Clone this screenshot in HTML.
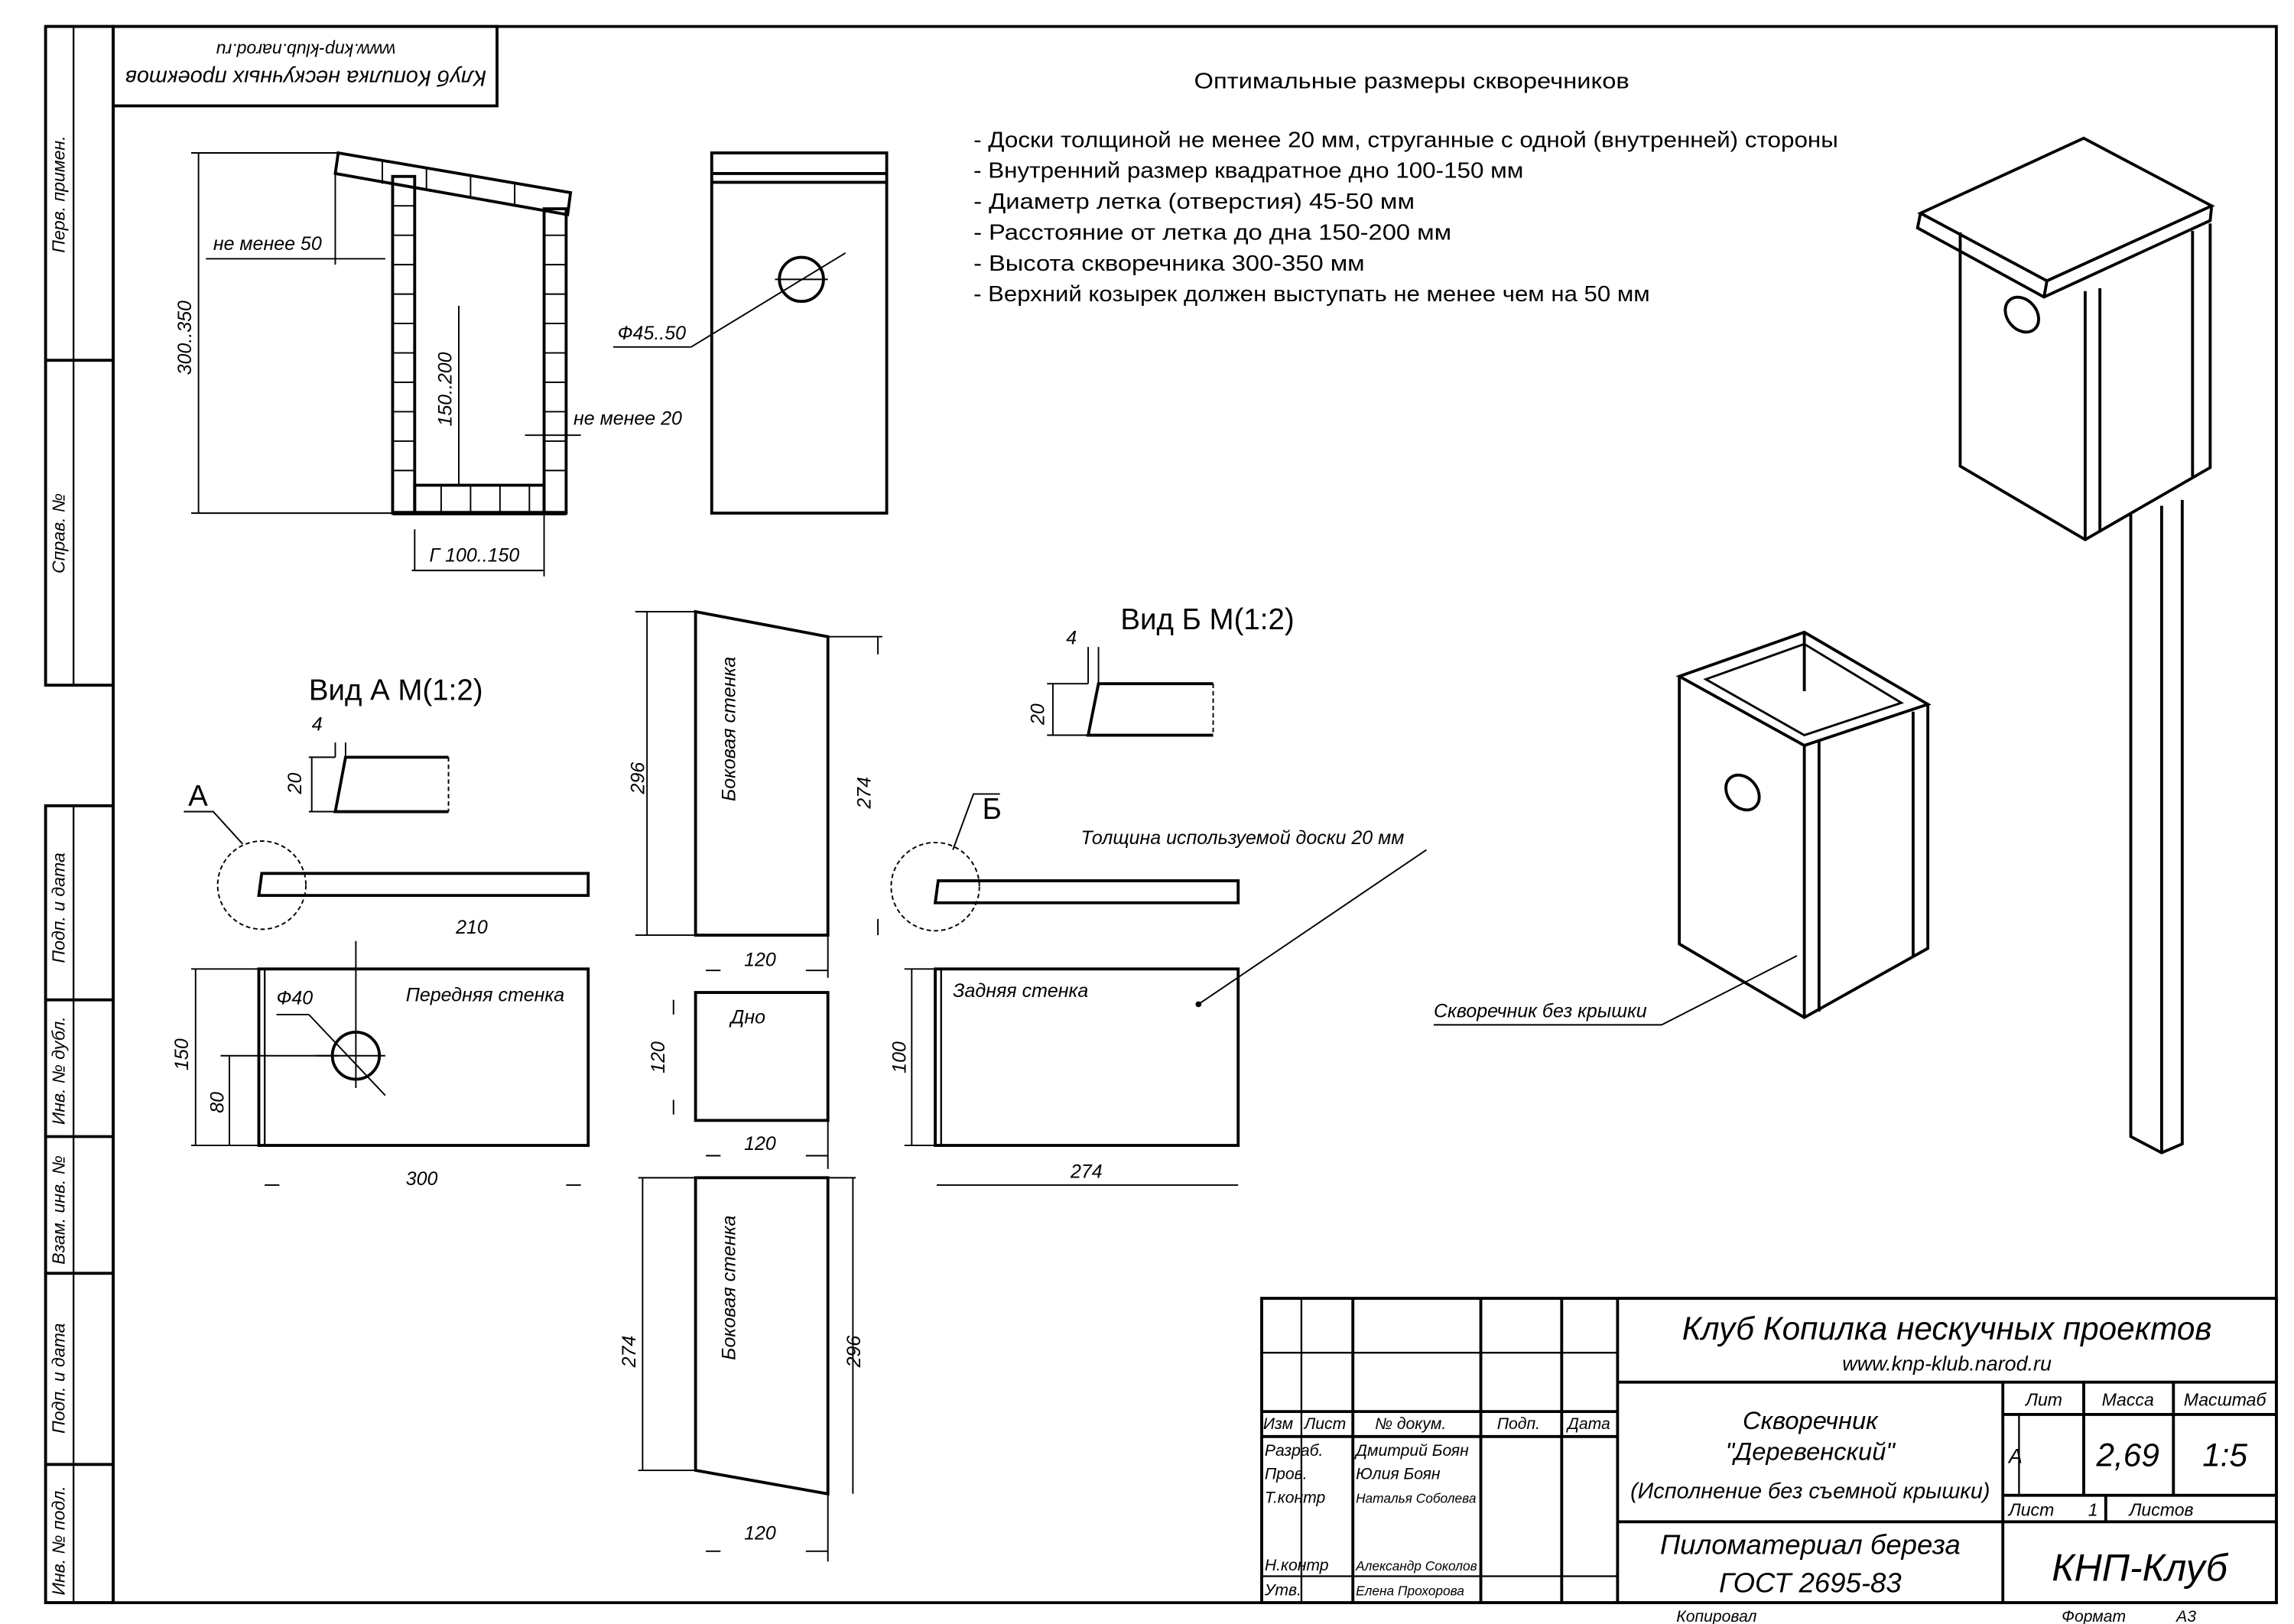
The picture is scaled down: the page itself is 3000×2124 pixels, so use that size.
<!DOCTYPE html>
<html><head><meta charset="utf-8"><style>
html,body{margin:0;padding:0;background:#fff;}
svg{display:block;}
text{font-family:"Liberation Sans",sans-serif;fill:#000;}
.it{font-style:italic;}
</style></head><body>
<svg width="3000" height="2124" viewBox="0 0 1560 1104.5" preserveAspectRatio="none" xmlns="http://www.w3.org/2000/svg">
<g fill="none" stroke="#000" stroke-width="2">
<polyline points="31,18 1548,18 1548,1090 31,1090"/>
<line x1="77" y1="18" x2="77" y2="1090"/>
<rect x="31" y="18" width="46" height="448"/>
<line x1="50" y1="18" x2="50" y2="466" stroke-width="1.2"/>
<line x1="31" y1="245" x2="77" y2="245"/>
<rect x="31" y="548" width="46" height="542"/>
<line x1="50" y1="548" x2="50" y2="1090" stroke-width="1.2"/>
<line x1="31" y1="680" x2="77" y2="680"/>
<line x1="31" y1="773" x2="77" y2="773"/>
<line x1="31" y1="866" x2="77" y2="866"/>
<line x1="31" y1="996" x2="77" y2="996"/>
<rect x="77" y="18" width="261" height="54"/>
</g>
<g class="it" font-size="12">
<text transform="translate(44,172) rotate(-90)">Перв. примен.</text>
<text transform="translate(44,390) rotate(-90)">Справ. №</text>
<text transform="translate(44,655) rotate(-90)">Подп. и дата</text>
<text transform="translate(44,765) rotate(-90)">Инв. № дубл.</text>
<text transform="translate(44,860) rotate(-90)">Взам. инв. №</text>
<text transform="translate(44,975) rotate(-90)">Подп. и дата</text>
<text transform="translate(44,1085) rotate(-90)">Инв. № подл.</text>
</g>
<g class="it" text-anchor="middle">
<text transform="translate(208,48) rotate(180)" font-size="15">Клуб Копилка нескучных проектов</text>
<text transform="translate(208,30) rotate(180)" font-size="12">www.knp-klub.narod.ru</text>
</g>
<text x="812" y="60" font-size="15" textLength="296" lengthAdjust="spacingAndGlyphs">Оптимальные размеры скворечников</text>
<g font-size="15">
<text x="662" y="100" textLength="588" lengthAdjust="spacingAndGlyphs">- Доски толщиной не менее 20 мм, струганные с одной (внутренней) стороны</text>
<text x="662" y="121" textLength="374" lengthAdjust="spacingAndGlyphs">- Внутренний размер квадратное дно 100-150 мм</text>
<text x="662" y="142" textLength="300" lengthAdjust="spacingAndGlyphs">- Диаметр летка (отверстия) 45-50 мм</text>
<text x="662" y="163" textLength="325" lengthAdjust="spacingAndGlyphs">- Расстояние от летка до дна 150-200 мм</text>
<text x="662" y="184" textLength="266" lengthAdjust="spacingAndGlyphs">- Высота скворечника 300-350 мм</text>
<text x="662" y="205" textLength="460" lengthAdjust="spacingAndGlyphs">- Верхний козырек должен выступать не менее чем на 50 мм</text>
</g>
<g fill="none" stroke="#000" stroke-width="2">
<polygon points="230,104 388,131 386,146 228,118"/>
<rect x="267" y="120" width="15" height="229"/>
<rect x="370" y="142" width="15" height="207"/>
<rect x="282" y="330" width="88" height="19"/>
<line x1="267" y1="349" x2="385" y2="349" stroke-width="3"/>
</g>
<g stroke="#000" stroke-width="1">
<line x1="130" y1="104" x2="230" y2="104"/><line x1="130" y1="349" x2="267" y2="349"/>
<line x1="135" y1="104" x2="135" y2="349"/>
<line x1="140" y1="176" x2="262" y2="176"/><line x1="228" y1="118" x2="228" y2="180"/>
<line x1="312" y1="208" x2="312" y2="330"/>
<line x1="357" y1="296" x2="395" y2="296"/>
<line x1="370" y1="349" x2="370" y2="392"/>
<line x1="280" y1="388" x2="370" y2="388"/>
<line x1="282" y1="360" x2="282" y2="388"/>
<path d="M267,140h15M267,160h15M267,180h15M267,200h15M267,220h15M267,240h15M267,260h15M267,280h15M267,300h15M267,320h15M370,160h15M370,180h15M370,200h15M370,220h15M370,240h15M370,260h15M370,280h15M370,300h15M370,320h15M300,330v19M320,330v19M340,330v19M360,330v19M260,110v15M290,114v15M320,119v15M350,124v15"/>
</g>
<g class="it" font-size="13">
<text transform="translate(130,255) rotate(-90)">300..350</text>
<text x="145" y="170">не менее 50</text>
<text transform="translate(307,290) rotate(-90)">150..200</text>
<text x="390" y="289">не менее 20</text>
<text x="292" y="382">Г 100..150</text>
<text x="420" y="231">Ф45..50</text>
</g>
<g fill="none" stroke="#000" stroke-width="2">
<rect x="484" y="104" width="119" height="245"/>
<line x1="484" y1="118" x2="603" y2="118"/><line x1="484" y1="124" x2="603" y2="124"/>
<circle cx="545" cy="190" r="15"/>
</g>
<g stroke="#000" stroke-width="1"><line x1="417" y1="236" x2="470" y2="236"/><line x1="470" y1="236" x2="575" y2="172"/><line x1="527" y1="190" x2="563" y2="190"/></g>
<text x="210" y="476" font-size="20">Вид А М(1:2)</text>
<g fill="none" stroke="#000" stroke-width="2">
<polyline points="305,515 235,515 228,552 305,552"/>
<circle cx="178" cy="602" r="30" stroke-width="1" stroke-dasharray="3,2"/>
<polygon points="178,594 400,594 400,609 176,609"/>
<rect x="176" y="659" width="224" height="120"/>
<line x1="180" y1="659" x2="180" y2="779" stroke-width="1.2"/>
<circle cx="242" cy="718" r="16"/>
<polygon points="473,416 563,433 563,636 473,636"/>
<rect x="473" y="675" width="90" height="87"/>
<polygon points="473,801 563,801 563,1016 473,1000"/>
</g>
<g stroke="#000" stroke-width="1" fill="none">
<line x1="305" y1="515" x2="305" y2="552" stroke-dasharray="3,2"/>
<line x1="228" y1="505" x2="228" y2="515"/><line x1="235" y1="505" x2="235" y2="515"/>
<line x1="210" y1="515" x2="228" y2="515"/><line x1="210" y1="552" x2="228" y2="552"/><line x1="212" y1="515" x2="212" y2="552"/>
<polyline points="125,552 145,552 165,574"/>
<line x1="242" y1="640" x2="242" y2="740"/><line x1="215" y1="718" x2="262" y2="718"/>
<line x1="188" y1="690" x2="210" y2="690"/><line x1="210" y1="690" x2="262" y2="745"/>
<line x1="130" y1="659" x2="176" y2="659"/><line x1="130" y1="779" x2="176" y2="779"/>
<line x1="133" y1="659" x2="133" y2="779"/><line x1="156" y1="718" x2="156" y2="779"/><line x1="150" y1="718" x2="230" y2="718"/>
<line x1="180" y1="806" x2="190" y2="806"/><line x1="385" y1="806" x2="395" y2="806"/>
<line x1="440" y1="416" x2="440" y2="636"/><line x1="432" y1="416" x2="473" y2="416"/><line x1="432" y1="636" x2="473" y2="636"/>
<line x1="563" y1="433" x2="600" y2="433"/><line x1="597" y1="433" x2="597" y2="445"/><line x1="597" y1="625" x2="597" y2="636"/>
<line x1="563" y1="636" x2="563" y2="665"/><line x1="480" y1="660" x2="490" y2="660"/><line x1="548" y1="660" x2="563" y2="660"/>
<line x1="458" y1="680" x2="458" y2="690"/><line x1="458" y1="748" x2="458" y2="758"/>
<line x1="563" y1="762" x2="563" y2="795"/><line x1="480" y1="786" x2="490" y2="786"/><line x1="548" y1="786" x2="563" y2="786"/>
<line x1="434" y1="801" x2="473" y2="801"/><line x1="437" y1="801" x2="437" y2="1000"/><line x1="434" y1="1000" x2="473" y2="1000"/>
<line x1="563" y1="801" x2="582" y2="801"/><line x1="580" y1="801" x2="580" y2="1016"/>
<line x1="563" y1="1016" x2="563" y2="1062"/><line x1="480" y1="1055" x2="490" y2="1055"/><line x1="548" y1="1055" x2="563" y2="1055"/>
</g>
<g class="it" font-size="13">
<text x="212" y="497">4</text>
<text transform="translate(205,540) rotate(-90)">20</text>
<text x="310" y="635">210</text>
<text x="188" y="683">Ф40</text>
<text x="276" y="681">Передняя стенка</text>
<text transform="translate(128,728) rotate(-90)">150</text>
<text transform="translate(152,757) rotate(-90)">80</text>
<text x="276" y="806">300</text>
<text transform="translate(438,540) rotate(-90)">296</text>
<text transform="translate(500,545) rotate(-90)">Боковая стенка</text>
<text transform="translate(592,550) rotate(-90)">274</text>
<text x="506" y="657">120</text>
<text x="497" y="696">Дно</text>
<text transform="translate(452,730) rotate(-90)">120</text>
<text x="506" y="782">120</text>
<text transform="translate(432,930) rotate(-90)">274</text>
<text transform="translate(500,925) rotate(-90)">Боковая стенка</text>
<text transform="translate(585,930) rotate(-90)">296</text>
<text x="506" y="1047">120</text>
</g>
<text x="128" y="548" font-size="20">А</text>
<text x="762" y="428" font-size="20">Вид Б М(1:2)</text>
<text x="668" y="557" font-size="20">Б</text>
<g fill="none" stroke="#000" stroke-width="2">
<polyline points="825,465 747,465 740,500 825,500"/>
<polygon points="638,599 842,599 842,614 636,614"/>
<rect x="636" y="659" width="206" height="120"/>
<line x1="640" y1="659" x2="640" y2="779" stroke-width="1.2"/>
</g>
<g stroke="#000" stroke-width="1" fill="none">
<line x1="825" y1="465" x2="825" y2="500" stroke-dasharray="3,2"/>
<circle cx="636" cy="603" r="30" stroke-dasharray="3,2"/>
<polyline points="680,540 662,540 648,578"/>
<line x1="740" y1="440" x2="740" y2="465"/><line x1="747" y1="440" x2="747" y2="465"/>
<line x1="712" y1="465" x2="740" y2="465"/><line x1="712" y1="500" x2="740" y2="500"/><line x1="716" y1="465" x2="716" y2="500"/>
<line x1="615" y1="659" x2="636" y2="659"/><line x1="615" y1="779" x2="636" y2="779"/><line x1="620" y1="659" x2="620" y2="779"/>
<line x1="637" y1="806" x2="842" y2="806"/>
<line x1="970" y1="578" x2="815" y2="683"/>
</g>
<circle cx="815" cy="683" r="2"/>
<g class="it" font-size="13">
<text x="725" y="438">4</text>
<text transform="translate(710,493) rotate(-90)">20</text>
<text x="735" y="574">Толщина используемой доски 20 мм</text>
<text x="648" y="678">Задняя стенка</text>
<text transform="translate(616,730) rotate(-90)">100</text>
<text x="728" y="801">274</text>
<text x="975" y="692">Скворечник без крышки</text>
</g>
<g fill="none" stroke="#000" stroke-width="2">
<polygon points="1306,145 1417,94 1504,140 1392,191"/>
<polyline points="1306,145 1304,155 1390,202 1503,150 1504,140"/>
<line x1="1392" y1="191" x2="1390" y2="202"/>
<polyline points="1333,158 1333,317 1418,367 1503,318 1503,152"/>
<line x1="1418" y1="198" x2="1418" y2="367"/>
<line x1="1428" y1="196" x2="1428" y2="362"/>
<line x1="1491" y1="157" x2="1491" y2="324"/>
<ellipse cx="1375" cy="214" rx="10" ry="13" transform="rotate(-40 1375 214)"/>
<polyline points="1449,350 1449,773 1470,784 1484,778 1484,340"/>
<line x1="1470" y1="344" x2="1470" y2="784"/>
<polygon points="1142,460 1227,430 1311,479 1227,507"/>
<polygon points="1160,462 1227,438 1293,478 1227,500" stroke-width="1.5"/>
<polyline points="1142,460 1142,642 1227,692 1311,645 1311,479"/>
<line x1="1227" y1="507" x2="1227" y2="692"/>
<line x1="1237" y1="503" x2="1237" y2="688"/>
<line x1="1301" y1="484" x2="1301" y2="651"/>
<line x1="1227" y1="430" x2="1227" y2="470"/>
<ellipse cx="1185" cy="539" rx="10" ry="13" transform="rotate(-40 1185 539)"/>
</g>
<g stroke="#000" stroke-width="1"><line x1="975" y1="697" x2="1130" y2="697"/><line x1="1130" y1="697" x2="1222" y2="650"/></g>
<g fill="none" stroke="#000" stroke-width="2">
<rect x="858" y="883" width="690" height="207"/>
<line x1="885" y1="883" x2="885" y2="1090" stroke-width="1.2"/>
<line x1="920" y1="883" x2="920" y2="1090"/>
<line x1="1007" y1="883" x2="1007" y2="1090"/>
<line x1="1062" y1="883" x2="1062" y2="1090"/>
<line x1="1100" y1="883" x2="1100" y2="1090"/>
<line x1="858" y1="920" x2="1100" y2="920" stroke-width="1.2"/>
<line x1="858" y1="960" x2="1100" y2="960"/>
<line x1="858" y1="977" x2="1100" y2="977"/>
<line x1="858" y1="1072" x2="1100" y2="1072" stroke-width="1.2"/>
<line x1="1100" y1="940" x2="1548" y2="940"/>
<line x1="1100" y1="1035" x2="1548" y2="1035"/>
<line x1="1362" y1="940" x2="1362" y2="1090"/>
<line x1="1362" y1="962" x2="1548" y2="962"/>
<line x1="1362" y1="1017" x2="1548" y2="1017"/>
<line x1="1373" y1="962" x2="1373" y2="1017" stroke-width="1.2"/>
<line x1="1417" y1="940" x2="1417" y2="1017"/>
<line x1="1478" y1="940" x2="1478" y2="1017"/>
<line x1="1432" y1="1017" x2="1432" y2="1035"/>
</g>
<g class="it">
<text x="1324" y="911" font-size="22" text-anchor="middle">Клуб Копилка нескучных проектов</text>
<text x="1324" y="932" font-size="14" text-anchor="middle">www.knp-klub.narod.ru</text>
<text x="1231" y="972" font-size="17" text-anchor="middle">Скворечник</text>
<text x="1231" y="993" font-size="17" text-anchor="middle">"Деревенский"</text>
<text x="1231" y="1019" font-size="15" text-anchor="middle">(Исполнение без съемной крышки)</text>
<text x="1231" y="1057" font-size="19" text-anchor="middle">Пиломатериал береза</text>
<text x="1231" y="1083" font-size="19" text-anchor="middle">ГОСТ 2695-83</text>
<text x="1455" y="1075" font-size="26" text-anchor="middle" font-family="Liberation Serif">КНП-Клуб</text>
<text x="1390" y="956" font-size="12" text-anchor="middle">Лит</text>
<text x="1447" y="956" font-size="12" text-anchor="middle">Масса</text>
<text x="1513" y="956" font-size="12" text-anchor="middle">Масштаб</text>
<text x="1366" y="995" font-size="14">А</text>
<text x="1447" y="997" font-size="22" text-anchor="middle">2,69</text>
<text x="1513" y="997" font-size="22" text-anchor="middle">1:5</text>
<text x="1366" y="1031" font-size="12">Лист</text>
<text x="1420" y="1031" font-size="12">1</text>
<text x="1448" y="1031" font-size="12">Листов</text>
<g font-size="11">
<text x="859" y="972">Изм</text><text x="887" y="972">Лист</text><text x="935" y="972">№ докум.</text><text x="1018" y="972">Подп.</text><text x="1066" y="972">Дата</text>
<text x="860" y="990">Разраб.</text><text x="922" y="990">Дмитрий Боян</text>
<text x="860" y="1006">Пров.</text><text x="922" y="1006">Юлия Боян</text>
<text x="860" y="1022">Т.контр</text><text x="922" y="1022" font-size="9">Наталья Соболева</text>
<text x="860" y="1068">Н.контр</text><text x="922" y="1068" font-size="9">Александр Соколов</text>
<text x="860" y="1085">Утв.</text><text x="922" y="1085" font-size="9">Елена Прохорова</text>
<text x="1140" y="1103">Копировал</text>
<text x="1402" y="1103">Формат</text><text x="1480" y="1103">А3</text>
</g>
</g>
</svg>
</body></html>
